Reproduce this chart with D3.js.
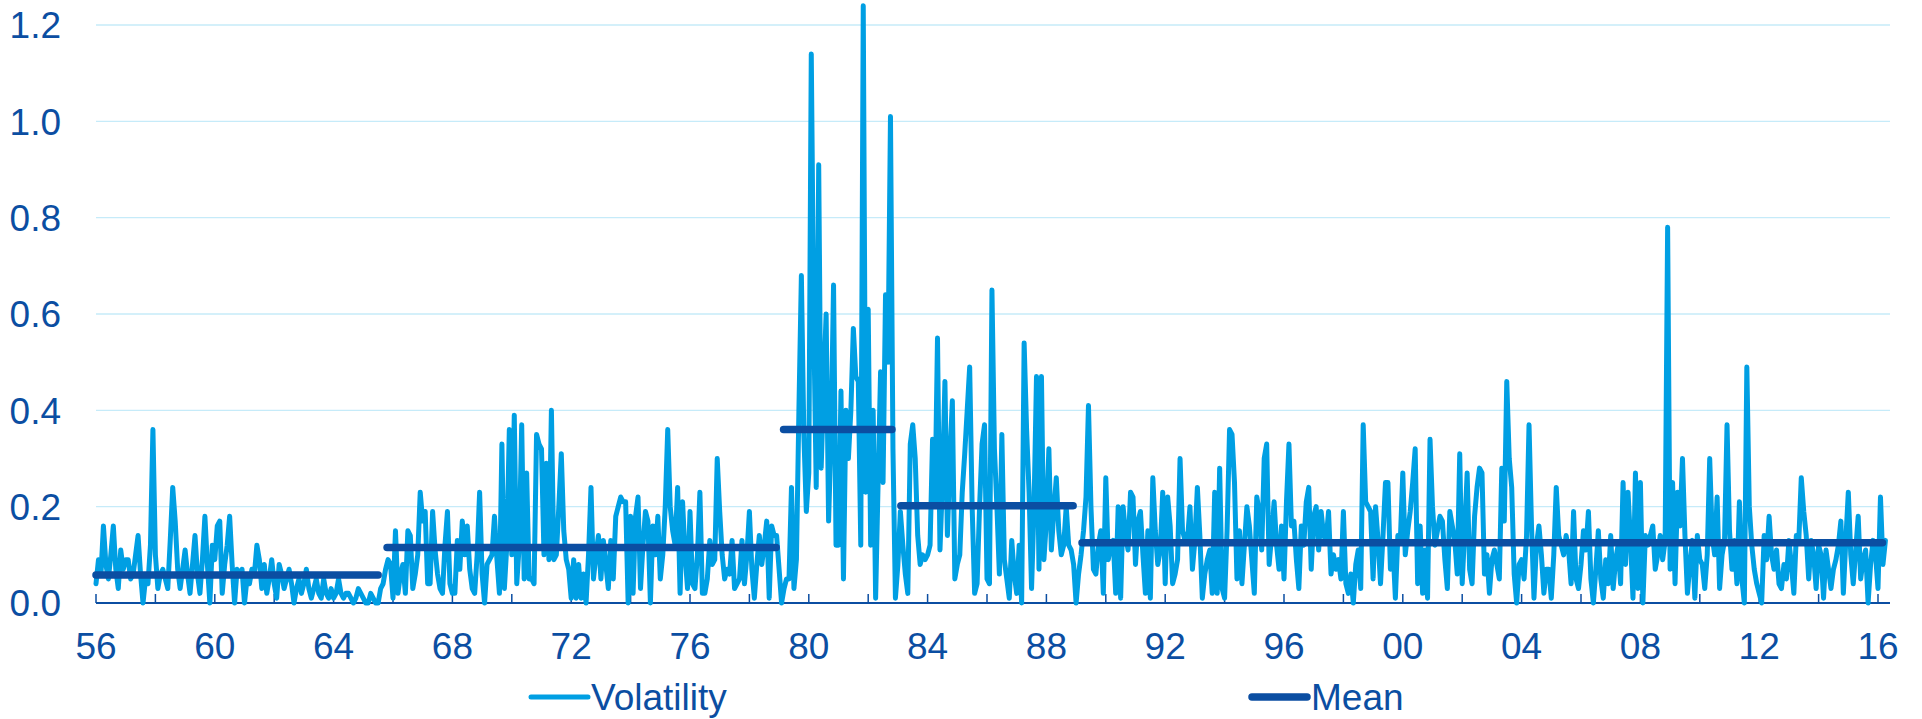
<!DOCTYPE html>
<html>
<head>
<meta charset="utf-8">
<script src="https://cdn.jsdelivr.net/npm/d3@7"></script>
<style>
  html, body { margin: 0; padding: 0; background: #ffffff; }
  svg { display: block; }
  text { font-family: "Liberation Sans", Arial, sans-serif; }
</style>
</head>
<body>
<svg id="chart" width="1922" height="719"></svg>
<script>
// ---------- DATA (monthly, starting Jan 1956) ----------
const startYear = 1956;
const volatility = [
  // 1956-1960
  0.04,0.09,0.06,0.16,0.08,0.05,0.10,0.16,0.07,0.03,0.11,0.07,
  0.09,0.09,0.05,0.06,0.10,0.14,0.06,0.00,0.05,0.04,0.12,0.36,
  0.10,0.03,0.06,0.07,0.05,0.03,0.13,0.24,0.17,0.07,0.03,0.07,
  0.11,0.06,0.02,0.08,0.14,0.06,0.02,0.09,0.18,0.08,0.00,0.12,
  0.09,0.16,0.17,0.02,0.08,0.12,0.18,0.08,0.00,0.07,0.06,0.07,
  // 1961-1965
  0.00,0.05,0.04,0.07,0.06,0.12,0.09,0.03,0.08,0.02,0.05,0.09,
  0.04,0.01,0.08,0.06,0.03,0.05,0.07,0.04,0.00,0.03,0.05,0.02,
  0.04,0.07,0.03,0.01,0.03,0.05,0.02,0.01,0.05,0.02,0.01,0.03,
  0.01,0.02,0.05,0.02,0.01,0.02,0.02,0.01,0.00,0.01,0.03,0.02,
  0.01,0.00,0.00,0.02,0.01,0.00,0.00,0.03,0.04,0.07,0.09,0.08,
  // 1966-1970
  0.01,0.15,0.02,0.06,0.08,0.02,0.15,0.14,0.03,0.06,0.10,0.23,
  0.17,0.19,0.04,0.04,0.19,0.11,0.06,0.03,0.02,0.12,0.19,0.04,
  0.02,0.02,0.13,0.07,0.17,0.10,0.16,0.07,0.03,0.02,0.10,0.23,
  0.06,0.00,0.08,0.09,0.10,0.18,0.09,0.02,0.33,0.03,0.12,0.36,
  0.10,0.39,0.04,0.12,0.37,0.05,0.27,0.05,0.05,0.04,0.35,0.33,
  // 1971-1975
  0.32,0.10,0.29,0.09,0.40,0.09,0.10,0.20,0.31,0.15,0.09,0.07,
  0.01,0.09,0.01,0.08,0.01,0.06,0.00,0.10,0.24,0.05,0.10,0.14,
  0.05,0.13,0.08,0.03,0.13,0.05,0.18,0.20,0.22,0.21,0.21,0.00,
  0.18,0.02,0.18,0.22,0.03,0.12,0.19,0.17,0.00,0.16,0.10,0.18,
  0.05,0.10,0.20,0.36,0.20,0.15,0.12,0.24,0.02,0.21,0.10,0.03,
  // 1976-1980
  0.19,0.04,0.03,0.10,0.23,0.02,0.02,0.05,0.13,0.08,0.09,0.30,
  0.19,0.10,0.05,0.07,0.06,0.13,0.03,0.04,0.05,0.13,0.04,0.10,
  0.19,0.07,0.01,0.08,0.14,0.08,0.12,0.17,0.01,0.16,0.14,0.14,
  0.07,0.00,0.03,0.05,0.05,0.24,0.03,0.09,0.40,0.68,0.35,0.19,
  0.27,1.14,0.58,0.24,0.91,0.28,0.45,0.60,0.17,0.35,0.66,0.12,
  // 1981-1985
  0.12,0.44,0.05,0.40,0.30,0.40,0.57,0.47,0.46,0.12,1.24,0.23,
  0.61,0.12,0.40,0.01,0.25,0.48,0.25,0.64,0.50,1.01,0.32,0.01,
  0.08,0.19,0.12,0.06,0.02,0.33,0.37,0.30,0.14,0.08,0.10,0.09,
  0.10,0.12,0.34,0.21,0.55,0.11,0.25,0.46,0.14,0.30,0.42,0.05,
  0.08,0.10,0.23,0.31,0.40,0.49,0.20,0.02,0.04,0.20,0.33,0.37,
  // 1986-1990
  0.05,0.04,0.65,0.32,0.20,0.06,0.35,0.09,0.05,0.01,0.13,0.06,
  0.02,0.12,0.00,0.54,0.36,0.23,0.03,0.20,0.47,0.07,0.47,0.09,
  0.17,0.32,0.11,0.19,0.26,0.15,0.10,0.12,0.20,0.12,0.11,0.08,
  0.00,0.06,0.10,0.15,0.22,0.41,0.20,0.07,0.06,0.12,0.15,0.02,
  0.26,0.09,0.12,0.13,0.02,0.20,0.01,0.20,0.14,0.11,0.23,0.22,
  // 1991-1995
  0.08,0.17,0.19,0.10,0.02,0.15,0.01,0.26,0.15,0.08,0.11,0.23,
  0.04,0.22,0.16,0.04,0.06,0.09,0.30,0.15,0.13,0.13,0.20,0.07,
  0.13,0.24,0.14,0.01,0.06,0.09,0.11,0.02,0.23,0.02,0.28,0.03,
  0.01,0.15,0.36,0.35,0.25,0.05,0.15,0.04,0.12,0.20,0.16,0.09,
  0.02,0.22,0.19,0.11,0.30,0.33,0.08,0.14,0.21,0.12,0.07,0.16,
  // 1996-2000
  0.05,0.21,0.33,0.16,0.17,0.09,0.03,0.16,0.12,0.21,0.24,0.07,
  0.18,0.20,0.11,0.19,0.14,0.13,0.19,0.06,0.10,0.07,0.09,0.05,
  0.19,0.04,0.02,0.06,0.00,0.08,0.11,0.03,0.37,0.21,0.20,0.19,
  0.05,0.20,0.13,0.04,0.14,0.25,0.25,0.07,0.12,0.01,0.14,0.13,
  0.27,0.10,0.15,0.19,0.25,0.32,0.04,0.16,0.02,0.11,0.01,0.34,
  // 2001-2005
  0.20,0.12,0.15,0.18,0.17,0.09,0.03,0.19,0.16,0.13,0.06,0.31,
  0.04,0.15,0.27,0.07,0.04,0.18,0.24,0.28,0.27,0.06,0.10,0.02,
  0.09,0.11,0.08,0.05,0.28,0.17,0.46,0.30,0.24,0.06,0.00,0.08,
  0.09,0.05,0.14,0.37,0.16,0.01,0.12,0.16,0.10,0.02,0.07,0.07,
  0.01,0.10,0.24,0.14,0.12,0.10,0.14,0.11,0.04,0.19,0.05,0.03,
  // 2006-2010
  0.08,0.15,0.11,0.19,0.05,0.00,0.07,0.15,0.05,0.01,0.09,0.04,
  0.14,0.03,0.09,0.12,0.04,0.25,0.08,0.23,0.13,0.01,0.27,0.03,
  0.25,0.00,0.14,0.12,0.14,0.16,0.07,0.10,0.14,0.09,0.13,0.78,
  0.07,0.25,0.04,0.23,0.16,0.30,0.14,0.02,0.08,0.13,0.01,0.14,
  0.09,0.08,0.03,0.10,0.30,0.14,0.10,0.22,0.03,0.10,0.13,0.37,
  // 2011-2016
  0.15,0.07,0.13,0.04,0.21,0.05,0.00,0.49,0.20,0.12,0.07,0.04,
  0.02,0.00,0.14,0.09,0.18,0.10,0.07,0.11,0.04,0.03,0.08,0.05,
  0.13,0.08,0.02,0.14,0.13,0.26,0.19,0.14,0.05,0.13,0.10,0.03,
  0.12,0.10,0.01,0.11,0.07,0.03,0.07,0.09,0.12,0.17,0.02,0.13,
  0.23,0.10,0.04,0.11,0.18,0.05,0.09,0.11,0.00,0.08,0.13,0.10,
  0.03,0.22,0.08,0.13
];

// Regime means (decimal years)
const meanStart = [1956.0, 1965.8, 1979.15, 1983.1, 1989.2];
const meanEnd   = [1965.5, 1978.9, 1982.8, 1988.9, 2016.15];
const meanValue = [0.058, 0.115, 0.36, 0.202, 0.125];

const xTickYears  = [1956,1960,1964,1968,1972,1976,1980,1984,1988,1992,1996,2000,2004,2008,2012,2016];
const xTickLabels = ["56","60","64","68","72","76","80","84","88","92","96","00","04","08","12","16"];
const yTicks      = [0, 0.2, 0.4, 0.6, 0.8, 1.0, 1.2];
const seriesNames = ["Volatility", "Mean"];

// ---------- STYLE ----------
const C_VOL = "#009fe3";
const C_MEAN = "#0b4ea2";
const C_TEXT = "#0b4ea2";
const C_GRID = "#c6ebf9";
const FONT = 37;

const svg = d3.select("#chart");
svg.append("rect").attr("width", 1922).attr("height", 719).attr("fill", "#fff");

const x = d3.scaleLinear().domain([1956, 2016]).range([96, 1878]);
const y = d3.scaleLinear().domain([0, 1.2]).range([603, 25]);

// grid
svg.append("g").selectAll("line").data(yTicks.filter(d => d > 0)).join("line")
  .attr("x1", 96).attr("x2", 1890)
  .attr("y1", d => y(d)).attr("y2", d => y(d))
  .attr("stroke", C_GRID).attr("stroke-width", 1.3);

// y labels
svg.append("g").selectAll("text").data(yTicks).join("text")
  .attr("x", 61).attr("y", d => y(d)).attr("dy", "0.36em")
  .attr("text-anchor", "end").attr("font-size", FONT).attr("fill", C_TEXT)
  .text(d => d3.format(".1f")(d));

// x axis line + ticks (every 2 years, pointing up)
svg.append("line").attr("x1", 96).attr("x2", 1890).attr("y1", y(0)).attr("y2", y(0))
  .attr("stroke", C_MEAN).attr("stroke-width", 2);
const tickYears = d3.range(1956, 2017, 2);
svg.append("g").selectAll("line").data(tickYears).join("line")
  .attr("x1", d => x(d)).attr("x2", d => x(d))
  .attr("y1", y(0)).attr("y2", y(0) - 9)
  .attr("stroke", C_MEAN).attr("stroke-width", 1.5);

// x labels
svg.append("g").selectAll("text").data(xTickYears).join("text")
  .attr("x", d => x(d)).attr("y", 659)
  .attr("text-anchor", "middle").attr("font-size", FONT).attr("fill", C_TEXT)
  .text((d, i) => xTickLabels[i]);

// volatility line
const volLine = d3.line()
  .x((d, i) => x(startYear + i / 12))
  .y(d => y(d));
svg.append("path").datum(volatility)
  .attr("d", volLine)
  .attr("fill", "none").attr("stroke", C_VOL).attr("stroke-width", 5)
  .attr("stroke-linejoin", "round").attr("stroke-linecap", "round");

// mean segments
svg.append("g").selectAll("line").data(meanValue).join("line")
  .attr("x1", (d, i) => x(meanStart[i])).attr("x2", (d, i) => x(meanEnd[i]))
  .attr("y1", d => y(d)).attr("y2", d => y(d))
  .attr("stroke", C_MEAN).attr("stroke-width", 7.5).attr("stroke-linecap", "round");

// legend
const legY = 697;
const leg = svg.append("g");
leg.append("line").attr("x1", 531).attr("x2", 588).attr("y1", legY).attr("y2", legY)
  .attr("stroke", C_VOL).attr("stroke-width", 5).attr("stroke-linecap", "round");
leg.append("text").attr("x", 591).attr("y", legY).attr("dy", "0.34em")
  .attr("font-size", FONT).attr("fill", C_TEXT).text(seriesNames[0]);
leg.append("line").attr("x1", 1252).attr("x2", 1307).attr("y1", legY).attr("y2", legY)
  .attr("stroke", C_MEAN).attr("stroke-width", 7.5).attr("stroke-linecap", "round");
leg.append("text").attr("x", 1311).attr("y", legY).attr("dy", "0.34em")
  .attr("font-size", FONT).attr("fill", C_TEXT).text(seriesNames[1]);
</script>
</body>
</html>
